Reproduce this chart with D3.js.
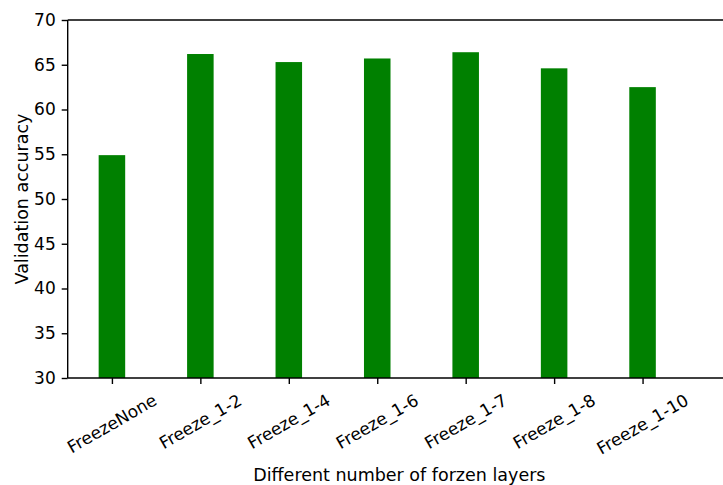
<!DOCTYPE html>
<html>
<head>
<meta charset="utf-8">
<script src="https://cdn.jsdelivr.net/npm/d3@7"></script>
<style>
  html, body { margin: 0; padding: 0; background: #fff; }
  svg { display: block; }
  text { font-family: "DejaVu Sans", sans-serif; fill: #000; }
</style>
</head>
<body>
<svg id="chart" width="723" height="485"></svg>
<script>
// Validation accuracy for each freezing configuration
const categories = ["FreezeNone", "Freeze_1-2", "Freeze_1-4", "Freeze_1-6", "Freeze_1-7", "Freeze_1-8", "Freeze_1-10"];
const accuracy = [54.9, 66.2, 65.3, 65.7, 66.4, 64.6, 62.5];
const yTicks = [30, 35, 40, 45, 50, 55, 60, 65, 70];
const xTitle = "Different number of forzen layers";
const yTitle = "Validation accuracy";

(function () {
  const svg = d3.select("#chart");
  const plotLeft = 67.7, plotRight = 731, plotTop = 20, plotBottom = 378;
  const tickFont = 17;
  const titleFont = 17.5;
  const barWidth = 0.3;
  const lineW = 1.4;

  // Categories sit at integer positions, as in a plain numeric bar layout
  const x = d3.scaleLinear().domain([-0.5, 7.0]).range([plotLeft, plotRight]);
  const y = d3.scaleLinear().domain([30, 70]).range([plotBottom, plotTop]);

  // Bars
  svg.append("g").selectAll("rect")
    .data(accuracy)
    .join("rect")
    .attr("x", (d, i) => x(i - barWidth / 2))
    .attr("width", (d, i) => x(i + barWidth / 2) - x(i - barWidth / 2))
    .attr("y", d => y(d))
    .attr("height", d => y(30) - y(d))
    .attr("fill", "#008000");

  // Y axis
  const yAxis = svg.append("g")
    .attr("transform", `translate(${plotLeft},0)`)
    .call(d3.axisLeft(y).tickValues(yTicks).tickSize(6).tickPadding(6).tickFormat(d3.format("d")));
  yAxis.selectAll("text").style("font-size", tickFont + "px").attr("font-family", "DejaVu Sans");
  yAxis.select(".domain").remove();
  yAxis.selectAll("line").attr("stroke", "#000").attr("stroke-width", lineW);

  // X axis ticks
  const xAxis = svg.append("g")
    .attr("transform", `translate(0,${plotBottom})`)
    .call(d3.axisBottom(x).tickValues(d3.range(categories.length)).tickSize(6).tickFormat(""));
  xAxis.select(".domain").remove();
  xAxis.selectAll("line").attr("stroke", "#000").attr("stroke-width", lineW);

  // Rotated category labels: bounding box centred under each tick
  const rot = 30 * Math.PI / 180;
  const labelTop = plotBottom + 12;
  const lg = svg.append("g");
  categories.forEach((c, i) => {
    const t = lg.append("text")
      .text(c)
      .style("font-size", tickFont + "px")
      .attr("text-anchor", "middle")
      .attr("dominant-baseline", "central");
    const w = t.node().getComputedTextLength();
    const h = tickFont * 1.16;
    const bh = w * Math.sin(rot) + h * Math.cos(rot);
    const cx = x(i), cy = labelTop + bh / 2;
    t.attr("transform", `translate(${cx},${cy}) rotate(-30)`);
  });

  // Spines
  const spines = svg.append("g").attr("stroke", "#000").attr("stroke-width", lineW).attr("fill", "none");
  spines.append("line").attr("x1", plotLeft).attr("x2", plotLeft).attr("y1", plotTop).attr("y2", plotBottom);
  spines.append("line").attr("x1", plotLeft).attr("x2", plotRight).attr("y1", plotBottom).attr("y2", plotBottom);
  spines.append("line").attr("x1", plotLeft).attr("x2", plotRight).attr("y1", plotTop).attr("y2", plotTop);
  spines.append("line").attr("x1", plotRight).attr("x2", plotRight).attr("y1", plotTop).attr("y2", plotBottom);

  // Axis titles
  svg.append("text")
    .attr("x", (plotLeft + plotRight) / 2)
    .attr("y", 481)
    .attr("text-anchor", "middle")
    .style("font-size", titleFont + "px")
    .text(xTitle);

  svg.append("text")
    .attr("transform", `translate(28,${(plotTop + plotBottom) / 2}) rotate(-90)`)
    .attr("text-anchor", "middle")
    .style("font-size", titleFont + "px")
    .text(yTitle);
})();
</script>
</body>
</html>
